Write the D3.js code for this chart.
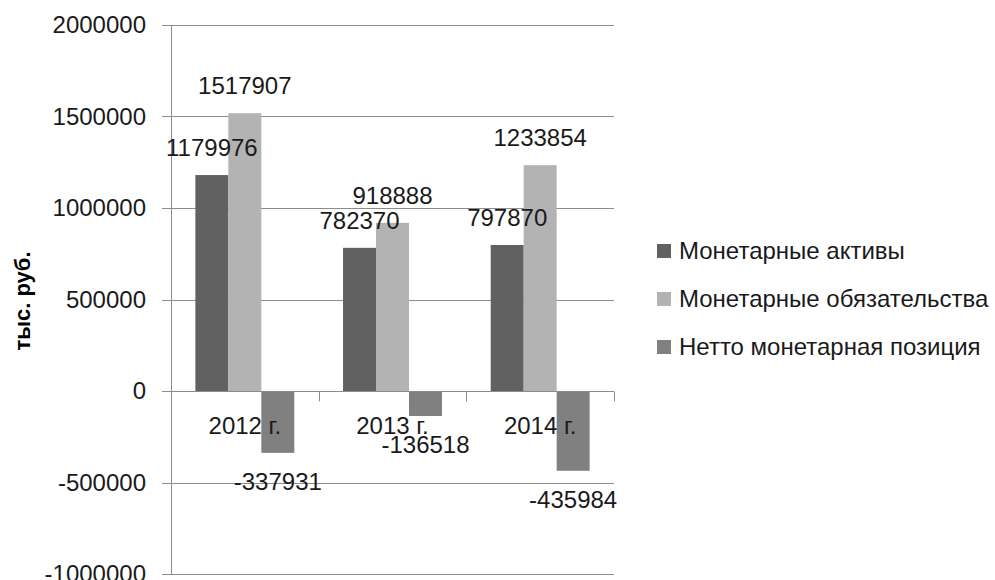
<!DOCTYPE html>
<html><head><meta charset="utf-8">
<script src="https://cdn.jsdelivr.net/npm/d3@7/dist/d3.min.js"></script>
<style>body{margin:0;background:#fff}svg{display:block}</style>
</head><body>
<svg id="c" width="995" height="580"></svg>
<script>
const categories = ["2012 г.", "2013 г.", "2014 г."];
const seriesNames = ["Монетарные активы", "Монетарные обязательства", "Нетто монетарная позиция"];
const assets = [1179976, 782370, 797870];
const liabilities = [1517907, 918888, 1233854];
const netPosition = [-337931, -136518, -435984];
const yTicks = [-1000000, -500000, 0, 500000, 1000000, 1500000, 2000000];
const yLabel = "тыс. руб.";
const colors = ["#616161", "#b3b3b3", "#808080"];

(function () {
const values = [assets, liabilities, netPosition];
const svg = d3.select("#c");
const FONT = "'Liberation Sans', Arial, sans-serif";
const FS = 24, LS = 0, TC = "#1a1a1a";
const pL = 171, pR = 614, pT = 25, pB = 574;

const y = d3.scaleLinear().domain([-1000000, 2000000]).range([pB, pT]);
const x0 = d3.scaleBand().domain(categories).range([pL, pR]).paddingInner(0.33).paddingOuter(0.165);
const x1 = d3.scaleBand().domain(seriesNames).range([0, x0.bandwidth()]);
const step = x0.step();

function styleText(sel) {
  return sel.attr("font-family", FONT).attr("font-size", FS).attr("letter-spacing", LS).attr("fill", TC);
}

// gridlines
svg.append("g").selectAll("line").data(yTicks).join("line")
  .attr("x1", pL - 9).attr("x2", pR)
  .attr("y1", d => Math.round(y(d)) + 0.5).attr("y2", d => Math.round(y(d)) + 0.5)
  .attr("stroke", "#8c8c8c").attr("stroke-width", 1);

// y axis via d3
const yAxis = d3.axisLeft(y).tickValues(yTicks).tickSize(0).tickPadding(25).tickFormat(d => String(d));
const ga = svg.append("g").attr("transform", `translate(${pL},0)`).call(yAxis);
ga.select(".domain").attr("stroke", "#8c8c8c");
styleText(ga.selectAll("text"));

// bars
const bars = [];
categories.forEach((c, i) => seriesNames.forEach((s, j) => bars.push({c, s, j, v: values[j][i]})));
svg.append("g").selectAll("rect").data(bars).join("rect")
  .attr("x", d => x0(d.c) + x1(d.s))
  .attr("width", x1.bandwidth())
  .attr("y", d => y(Math.max(0, d.v)))
  .attr("height", d => Math.abs(y(d.v) - y(0)))
  .attr("fill", d => colors[d.j]);

// zero axis line and category ticks
const y0 = Math.round(y(0)) + 0.5;
svg.append("line").attr("x1", pL).attr("x2", pR).attr("y1", y0).attr("y2", y0)
  .attr("stroke", "#8c8c8c");
svg.append("g").selectAll("line").data(d3.range(categories.length + 1)).join("line")
  .attr("x1", i => Math.round(pL + i * step) + 0.5).attr("x2", i => Math.round(pL + i * step) + 0.5)
  .attr("y1", y0).attr("y2", y0 + 10).attr("stroke", "#8c8c8c");
svg.append("line").attr("x1", pL + 0.5).attr("x2", pL + 0.5).attr("y1", pT).attr("y2", pB)
  .attr("stroke", "#8c8c8c");

// category labels
styleText(svg.append("g").selectAll("text").data(categories).join("text")
  .attr("x", d => x0(d) + x0.bandwidth() / 2).attr("y", y(0) + 43)
  .attr("text-anchor", "middle"))
  .text(d => d);

// value labels
styleText(svg.append("g").selectAll("text").data(bars).join("text")
  .attr("x", d => x0(d.c) + x1(d.s) + x1.bandwidth() / 2)
  .attr("y", d => d.v >= 0 ? y(d.v) - 19 : y(d.v) + 37)
  .attr("text-anchor", "middle"))
  .text(d => String(d.v));

// y label
svg.append("text").attr("transform", `translate(30,301) rotate(-90)`)
  .attr("text-anchor", "middle").attr("font-family", FONT).attr("font-size", 22).attr("font-weight", "bold")
  .attr("fill", "#000").text(yLabel);

// legend
const lg = svg.append("g").selectAll("g").data(seriesNames).join("g")
  .attr("transform", (d, i) => `translate(657,${251 + i * 48})`);
lg.append("rect").attr("x", 0).attr("y", -7).attr("width", 14).attr("height", 14).attr("fill", (d, i) => colors[i]);
styleText(lg.append("text").attr("x", 22).attr("y", 8)).text(d => d);
})();
</script>
</body></html>
